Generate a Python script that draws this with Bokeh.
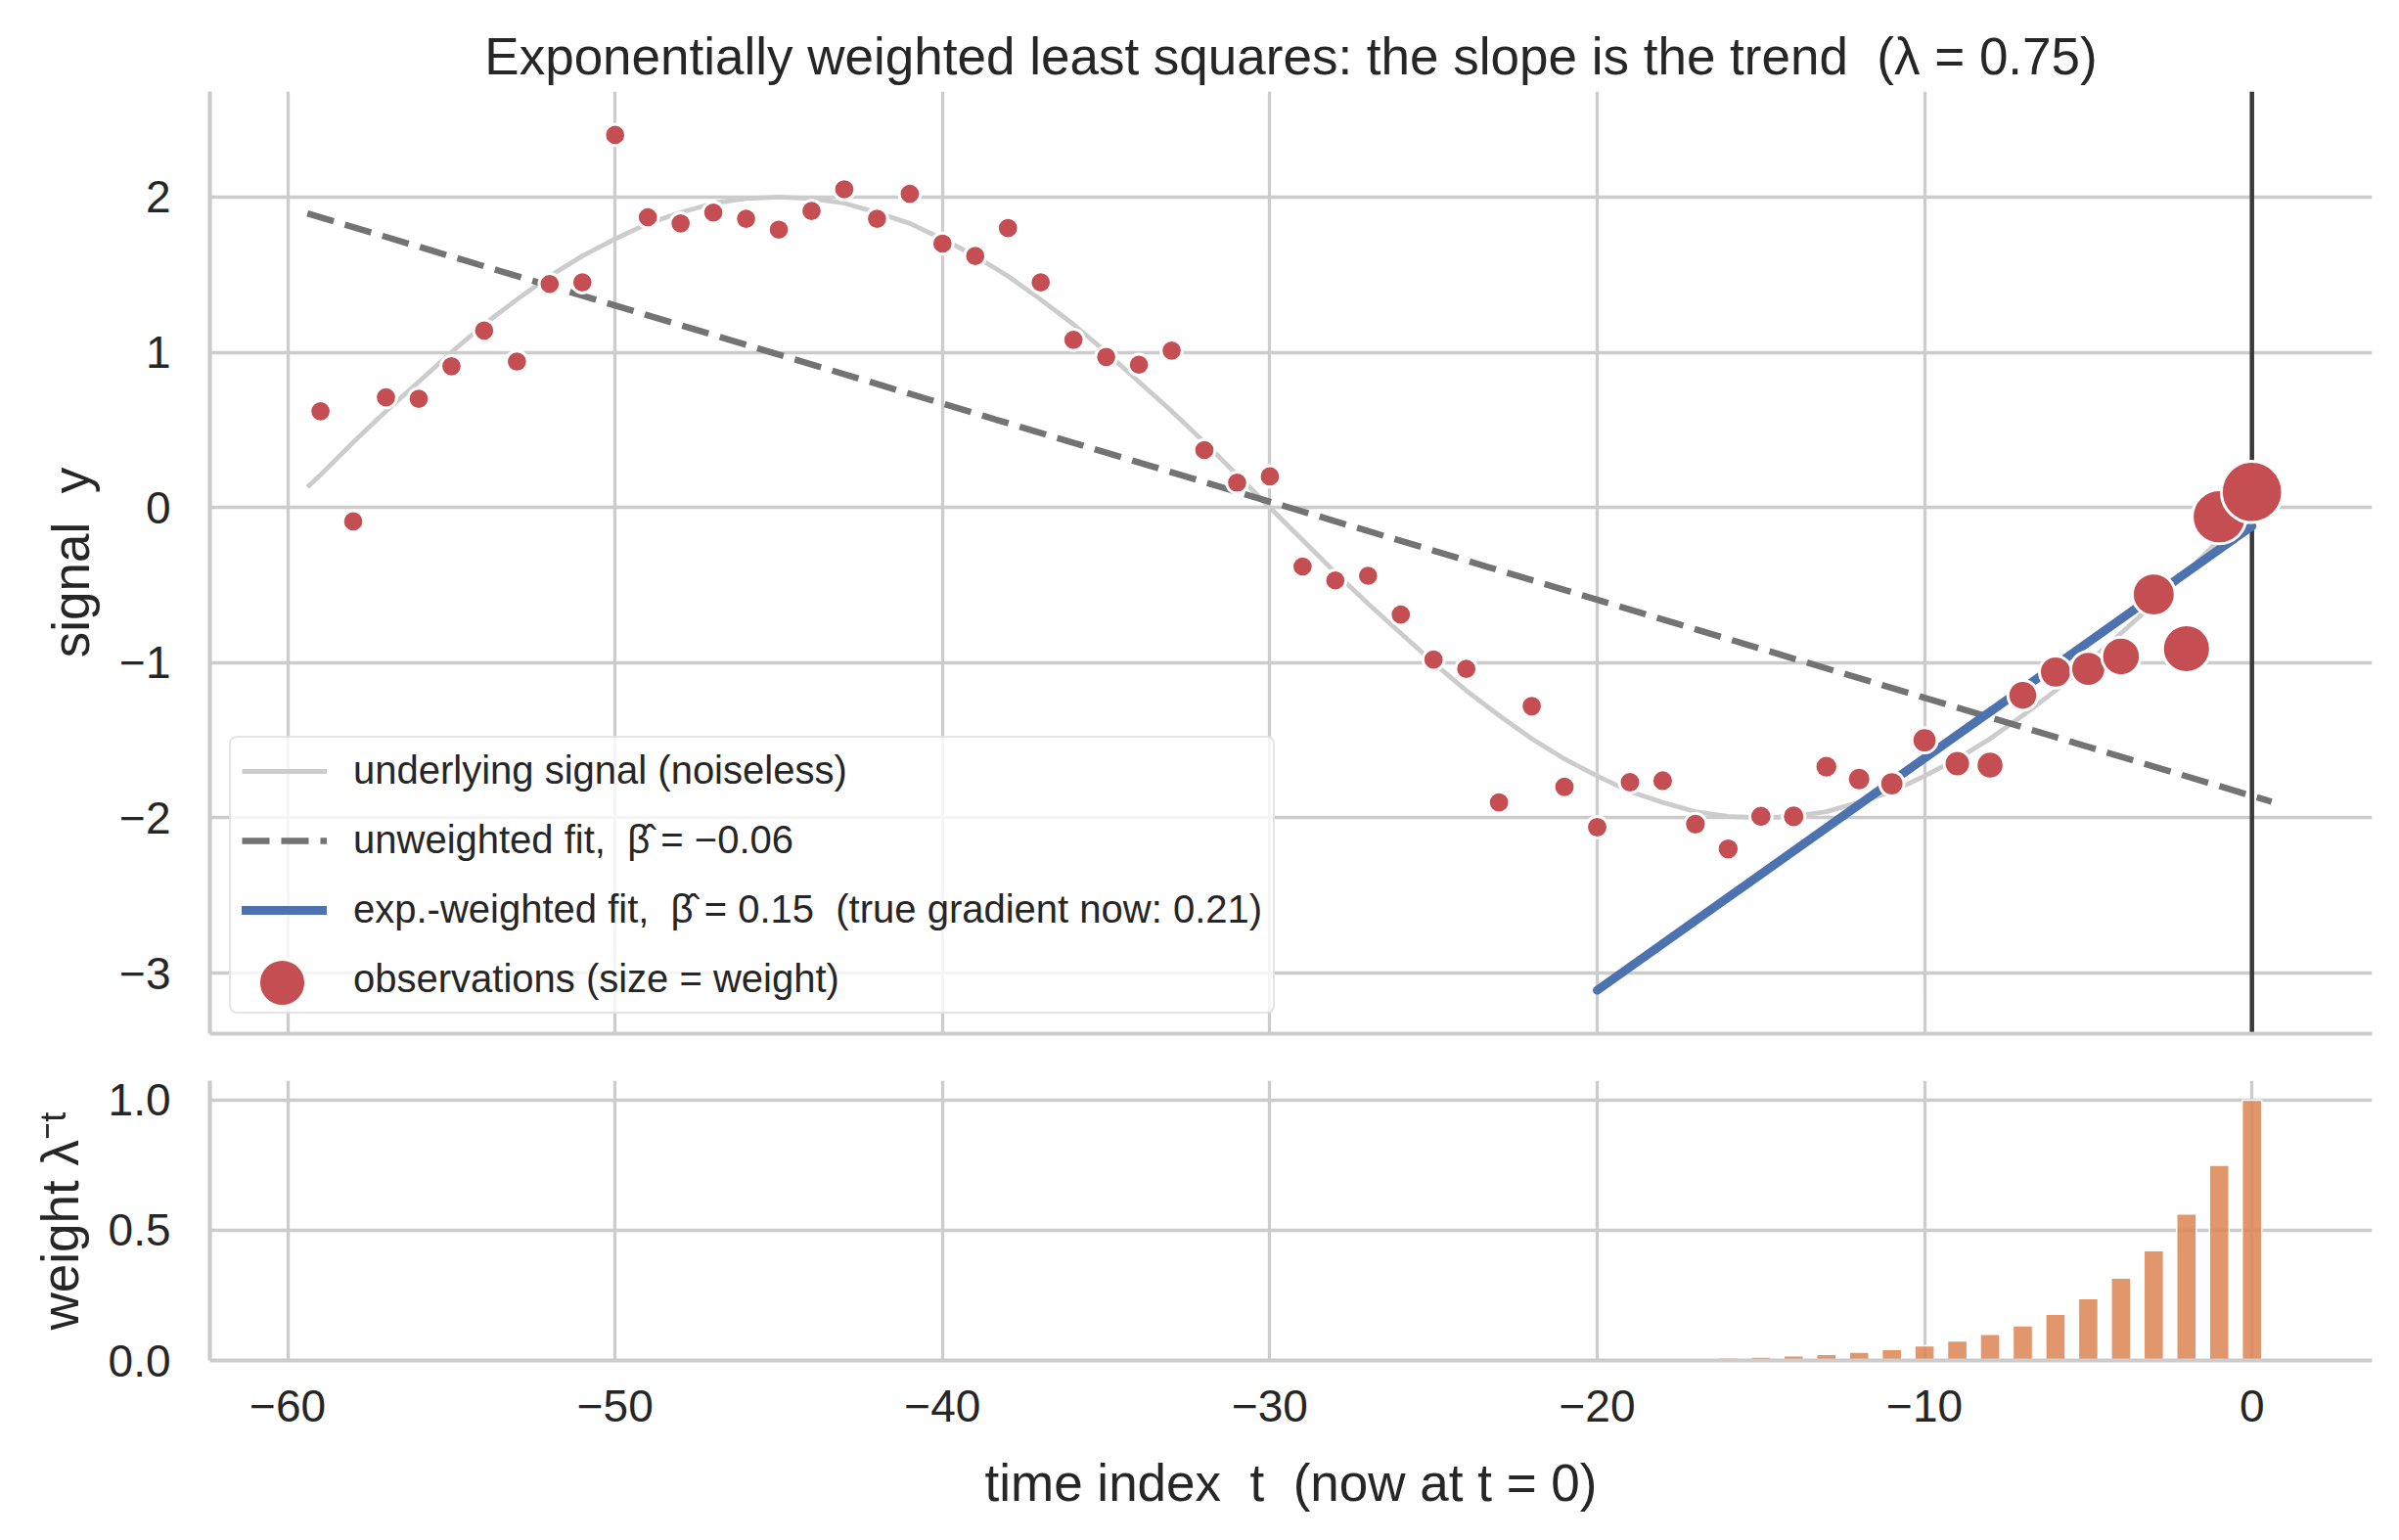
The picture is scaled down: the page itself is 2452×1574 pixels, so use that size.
import numpy as np
from bokeh.plotting import figure
from bokeh.layouts import column
from bokeh.models import (Range1d, Span, Legend, LegendItem, FixedTicker,
                          CustomJSTickFormatter)
from bokeh.embed import file_html
from bokeh.resources import INLINE

# ---------------- data ----------------
t_obs = list(range(-59, 1))
y_obs = [0.62, -0.09, 0.71, 0.70, 0.91, 1.14, 0.94, 1.44, 1.45, 2.40,
         1.87, 1.83, 1.90, 1.86, 1.79, 1.91, 2.05, 1.86, 2.02, 1.70,
         1.62, 1.80, 1.45, 1.08, 0.97, 0.92, 1.01, 0.37, 0.16, 0.20,
         -0.38, -0.47, -0.44, -0.69, -0.98, -1.04, -1.90, -1.28, -1.80, -2.06,
         -1.77, -1.76, -2.04, -2.20, -1.99, -1.99, -1.67, -1.75, -1.78, -1.50,
         -1.65, -1.66, -1.21, -1.06, -1.04, -0.96, -0.56, -0.91, -0.06, 0.10]
weights = [0.0, 0.0, 0.0, 0.0, 0.0, 0.0, 0.0, 0.0, 0.0, 0.0,
           0.0, 0.0, 0.0, 0.0, 0.0, 0.0, 0.0, 0.0, 0.0, 0.0,
           0.0, 0.0, 0.0, 0.0, 0.0, 0.0, 0.0, 0.0, 0.0, 0.0,
           0.0, 0.0, 0.0, 0.0, 0.0008, 0.0010, 0.0013, 0.0018, 0.0024, 0.0032,
           0.0042, 0.0056, 0.0075, 0.0100, 0.0134, 0.0178, 0.0238, 0.0317, 0.0422, 0.0563,
           0.0751, 0.1001, 0.1335, 0.1780, 0.2373, 0.3164, 0.4219, 0.5625, 0.75, 1.0]

curve_t = [-59.4] + list(range(-59, 1)) + [0.6]
curve_y = [0.13, 0.21, 0.42, 0.62, 0.81, 1.00, 1.18, 1.34, 1.49, 1.62, 1.73,
           1.83, 1.90, 1.96, 1.99, 2.00, 1.99, 1.96, 1.90, 1.83, 1.73,
           1.62, 1.49, 1.34, 1.18, 1.00, 0.81, 0.62, 0.42, 0.21, 0.00,
           -0.21, -0.42, -0.62, -0.81, -1.00, -1.18, -1.34, -1.49, -1.62, -1.73,
           -1.83, -1.90, -1.96, -1.99, -2.00, -1.99, -1.96, -1.90, -1.83, -1.73,
           -1.62, -1.49, -1.34, -1.18, -1.00, -0.81, -0.62, -0.42, -0.21, 0.00, 0.13]

ols_t = [-59.4, 0.6]
ols_y = [1.895, -1.896]
ewls_t = [-20, 0]
ewls_y = [-3.11, -0.12]
now_t = 0

y_ticks_top = [-3, -2, -1, 0, 1, 2]
y_ticks_bot = [0.0, 0.5, 1.0]
x_ticks = [-60, -50, -40, -30, -20, -10, 0]

NB2 = "\u00a0\u00a0"
title_text = "Exponentially weighted least squares: the slope is the trend" + NB2 + "(\u03bb = 0.75)"
xlabel_text = "time index" + NB2 + "t" + NB2 + "(now at t = 0)"
ylabel_top = "signal" + NB2 + "y"
ylabel_bot = "weight \u03bb\u207b\u1d57"
labels = ["underlying signal (noiseless)",
          "unweighted fit," + NB2 + "\u03b2\u0302 = \u22120.06",
          "exp.-weighted fit," + NB2 + "\u03b2\u0302 = 0.15" + NB2 + "(true gradient now: 0.21)",
          "observations (size = weight)"]

# ---------------- style ----------------
FONT = "Liberation Sans"
TXT = "#262626"
GRID = "#cccccc"
RED = "#c44e52"
BLUE = "#4c72b0"
ORANGE = "#dd8452"

sizes = np.sqrt(470 + 3444 * np.array(weights))

xr = Range1d(-62.38, 3.67)

fmt0 = CustomJSTickFormatter(code="return (tick < 0 ? '\u2212' : '') + Math.abs(tick).toFixed(0);")
fmt1 = CustomJSTickFormatter(code="return (tick < 0 ? '\u2212' : '') + Math.abs(tick).toFixed(1);")


def style(p):
    p.outline_line_color = None
    p.background_fill_color = "white"
    p.border_fill_color = "white"
    for g in (p.xgrid[0], p.ygrid[0]):
        g.grid_line_color = GRID
        g.grid_line_width = 3.3
    for ax in (p.xaxis[0], p.yaxis[0]):
        ax.axis_line_color = GRID
        ax.axis_line_width = 4.2
        ax.major_tick_out = 0
        ax.major_tick_in = 0
        ax.minor_tick_out = 0
        ax.minor_tick_in = 0
        ax.major_label_text_font = FONT
        ax.major_label_text_font_size = "46px"
        ax.major_label_text_color = TXT
        ax.axis_label_text_font = FONT
        ax.axis_label_text_font_size = "53px"
        ax.axis_label_text_font_style = "normal"
        ax.axis_label_text_color = TXT
    p.yaxis[0].major_label_standoff = 40
    p.yaxis[0].axis_label_standoff = 17


# ---------------- top panel ----------------
p1 = figure(frame_width=2210, frame_height=963, x_range=xr, y_range=Range1d(-3.39, 2.68),
            output_backend="svg", toolbar_location=None, tools="",
            min_border_left=214, min_border_right=28, min_border_top=93, min_border_bottom=24)
style(p1)
p1.xaxis.ticker = FixedTicker(ticks=[])
p1.xgrid[0].ticker = FixedTicker(ticks=x_ticks)
p1.xaxis.major_label_standoff = 0
p1.yaxis.ticker = FixedTicker(ticks=y_ticks_top)
p1.yaxis.formatter = fmt0
p1.yaxis.axis_label = ylabel_top

p1.title.text = title_text
p1.title.align = "center"
p1.title.text_font = FONT
p1.title.text_font_size = "53px"
p1.title.text_font_style = "normal"
p1.title.text_color = TXT
p1.title.standoff = 14

p1.add_layout(Span(location=now_t, dimension="height", line_color="#3a3a3a",
                   line_width=4.5, level="underlay"))

r_curve = p1.line(curve_t, curve_y, line_color="#cccccc", line_width=4.8)
r_ols = p1.line(ols_t, ols_y, line_color="#737373", line_width=6.5, line_dash="28 12")
r_ewls = p1.line(ewls_t, ewls_y, line_color=BLUE, line_width=9, line_cap="round")
r_pts = p1.scatter(t_obs, y_obs, size=sizes, fill_color=RED, line_color="white", line_width=3)

leg1 = Legend(items=[LegendItem(label=labels[0], renderers=[r_curve]),
                     LegendItem(label=labels[1], renderers=[r_ols]),
                     LegendItem(label=labels[2], renderers=[r_ewls]),
                     LegendItem(label=labels[3], renderers=[r_pts])],
              location="bottom_left", margin=20, padding=11, spacing=26,
              glyph_width=87, glyph_height=42, label_height=42, label_standoff=27,
              label_text_font=FONT, label_text_font_size="40px", label_text_color=TXT,
              border_line_color="#cccccc", border_line_width=2.5,
              background_fill_color="white", background_fill_alpha=0.8)
if "border_radius" in Legend.properties():
    leg1.border_radius = 8
p1.add_layout(leg1, "center")

leg2 = Legend(items=[LegendItem(label="", renderers=[r_pts])],
              location=(14, -8), margin=0, padding=0, spacing=0,
              glyph_width=120, glyph_height=120, label_height=0, label_width=0,
              label_standoff=0, border_line_color=None,
              background_fill_alpha=0)
p1.add_layout(leg2, "center")

# ---------------- bottom panel ----------------
p2 = figure(frame_width=2210, frame_height=286, x_range=xr, y_range=Range1d(0, 1.075),
            output_backend="svg", toolbar_location=None, tools="",
            min_border_left=214, min_border_right=28, min_border_top=24, min_border_bottom=184)
style(p2)
p2.xaxis.ticker = FixedTicker(ticks=x_ticks)
p2.yaxis.ticker = FixedTicker(ticks=y_ticks_bot)
p2.xaxis.formatter = fmt0
p2.yaxis.formatter = fmt1
p2.xaxis.major_label_standoff = 30
p2.xaxis.axis_label_standoff = 30
p2.xaxis.axis_label = xlabel_text
p2.yaxis.axis_label = ylabel_bot

p2.vbar(x=t_obs, top=weights, width=0.6, fill_color=ORANGE, fill_alpha=0.85,
        line_color="white", line_width=1.5)

layout = column(p1, p2)
open("out.html", "w", encoding="utf-8").write(file_html(layout, INLINE))
